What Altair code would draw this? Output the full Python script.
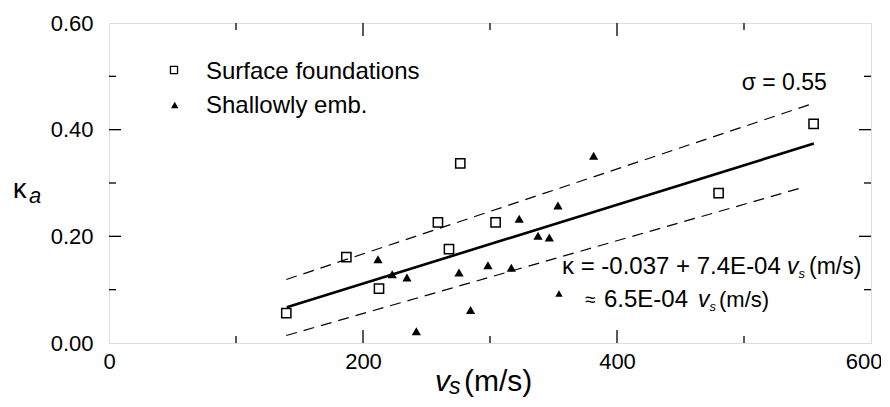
import altair as alt
import pandas as pd

# ---- data ----
surf_vs = [139.6, 186.9, 212.6, 259.0, 267.7, 276.6, 304.4, 480.0, 554.8]
surf_k = [0.056, 0.161, 0.102, 0.226, 0.176, 0.337, 0.226, 0.281, 0.411]

emb_vs = [211.8, 223.0, 234.6, 242.0, 275.6, 284.7, 298.4, 316.8, 323.0, 337.8, 346.7, 353.5, 381.6]
emb_k = [0.157, 0.129, 0.123, 0.022, 0.132, 0.062, 0.146, 0.141, 0.233, 0.201, 0.198, 0.258, 0.351]

fit_vs = [140, 555]
fit_k = [0.067, 0.374]

upper_vs = [139.6, 554.8]
upper_k = [0.119, 0.4495]
lower_vs = [139.6, 548.3]
lower_k = [0.014, 0.293]

x_major = [200, 400]
x_minor = [100, 300, 500]
y_major = [0.2, 0.4]
y_minor = [0.1, 0.3, 0.5]
x_labels = [0, 200, 400, 600]
y_labels = [0.0, 0.2, 0.4, 0.6]

FONT = "Liberation Sans"
W, H = 762, 320

xs = alt.Scale(domain=[0, 600], nice=False, zero=False)
ys = alt.Scale(domain=[0, 0.6], nice=False, zero=False)

xax = alt.Axis(values=x_labels, title=None, labelFontSize=22, labelPadding=8, labelFlush=False,
               labelAlign=alt.expr("datum.value == 600 ? 'right' : 'center'"),
               labelOffset=alt.expr("datum.value == 600 ? 11 : 0"),
               labelFont=FONT, labelColor="black", domain=False, ticks=False, grid=False)
yax = alt.Axis(values=y_labels, title=None, labelFontSize=22, labelPadding=16, format=".2f",
               labelFlush=False,
               labelFont=FONT, labelColor="black", domain=False, ticks=False, grid=False)

surf = pd.DataFrame({"vs": surf_vs, "k": surf_k})
emb = pd.DataFrame({"vs": emb_vs, "k": emb_k})
fit = pd.DataFrame({"vs": fit_vs, "k": fit_k})
up = pd.DataFrame({"vs": upper_vs, "k": upper_k})
lo = pd.DataFrame({"vs": lower_vs, "k": lower_k})

base_pts = alt.Chart(surf).mark_point(shape="square", filled=False, color="black",
                                      size=85, strokeWidth=1.5, opacity=1).encode(
    x=alt.X("vs:Q", scale=xs, axis=xax), y=alt.Y("k:Q", scale=ys, axis=yax))

tri = alt.Chart(emb).mark_point(shape="triangle-up", filled=True, color="black",
                                size=85, opacity=1).encode(
    x=alt.X("vs:Q", scale=xs), y=alt.Y("k:Q", scale=ys))

fit_line = alt.Chart(fit).mark_line(color="black", strokeWidth=2.6).encode(
    x=alt.X("vs:Q", scale=xs), y=alt.Y("k:Q", scale=ys))
up_line = alt.Chart(up).mark_line(color="black", strokeWidth=1.2, strokeDash=[11, 7]).encode(
    x=alt.X("vs:Q", scale=xs), y=alt.Y("k:Q", scale=ys))
lo_line = alt.Chart(lo).mark_line(color="black", strokeWidth=1.2, strokeDash=[11, 7]).encode(
    x=alt.X("vs:Q", scale=xs), y=alt.Y("k:Q", scale=ys))

# inward ticks on all four sides
def xticks(vals, length):
    d = pd.DataFrame({"v": vals})
    bot = alt.Chart(d).mark_rule(color="black", strokeWidth=1.3).encode(
        x=alt.X("v:Q", scale=xs), y=alt.value(H), y2=alt.value(H - length))
    top = alt.Chart(d).mark_rule(color="black", strokeWidth=1.3).encode(
        x=alt.X("v:Q", scale=xs), y=alt.value(0), y2=alt.value(length))
    return [bot, top]

def yticks(vals, length):
    d = pd.DataFrame({"v": vals})
    left = alt.Chart(d).mark_rule(color="black", strokeWidth=1.3).encode(
        y=alt.Y("v:Q", scale=ys), x=alt.value(0), x2=alt.value(length))
    right = alt.Chart(d).mark_rule(color="black", strokeWidth=1.3).encode(
        y=alt.Y("v:Q", scale=ys), x=alt.value(W), x2=alt.value(W - length))
    return [left, right]

ticks = xticks(x_major, 13) + xticks(x_minor, 7) + yticks(y_major, 12) + yticks(y_minor, 7)

def txt(s, x, y, size, style="normal", align="left"):
    return alt.Chart(pd.DataFrame({"t": [s]})).mark_text(
        font=FONT, fontSize=size, fontStyle=style, align=align, baseline="alphabetic",
        color="black").encode(x=alt.value(x), y=alt.value(y), text="t:N")

def sym(shape, x, y, size, filled):
    return alt.Chart(pd.DataFrame({"a": [0]})).mark_point(
        shape=shape, filled=filled, color="black", size=size, strokeWidth=1.3, opacity=1
    ).encode(x=alt.value(x), y=alt.value(y))

texts = [
    # legend
    sym("square", 65, 47, 50, False),
    txt("Surface foundations", 97, 56, 24),
    sym("triangle-up", 65.7, 82, 55, True),
    txt("Shallowly emb.", 97, 90, 24),
    # sigma
    txt("σ = 0.55", 632.7, 67, 23),
    # equation line 1
    txt("κ = -0.037 + 7.4E-04", 453, 251, 24),
    txt("v", 678, 251, 23, "italic"),
    txt("s", 689.5, 255, 13, "italic"),
    txt("(m/s)", 700, 251, 23),
    # equation line 2
    sym("triangle-up", 450, 270.5, 55, True),
    txt("≈", 476, 283, 19),
    txt("6.5E-04", 495, 284, 24),
    txt("v", 589, 284, 23, "italic"),
    txt("s", 600.5, 288, 13, "italic"),
    txt("(m/s)", 610, 284, 22),
    # axis titles
    txt("v", 326, 368, 30, "italic"),
    txt("s", 340, 371, 23, "italic"),
    txt("(m/s)", 355, 368, 30),
    txt("κ", -96, 175, 27),
    txt("a", -80, 180, 22, "italic"),
]

chart = alt.layer(base_pts, tri, fit_line, up_line, lo_line, *ticks, *texts).properties(
    width=W, height=H,
    autosize=alt.AutoSizeParams(type="none"),
    padding={"left": 101, "top": 15, "right": 10, "bottom": 57},
).configure_view(stroke="black", strokeWidth=1.5).configure(background="white")

chart.save("out.html", embed_options={"renderer": "svg", "actions": False})
